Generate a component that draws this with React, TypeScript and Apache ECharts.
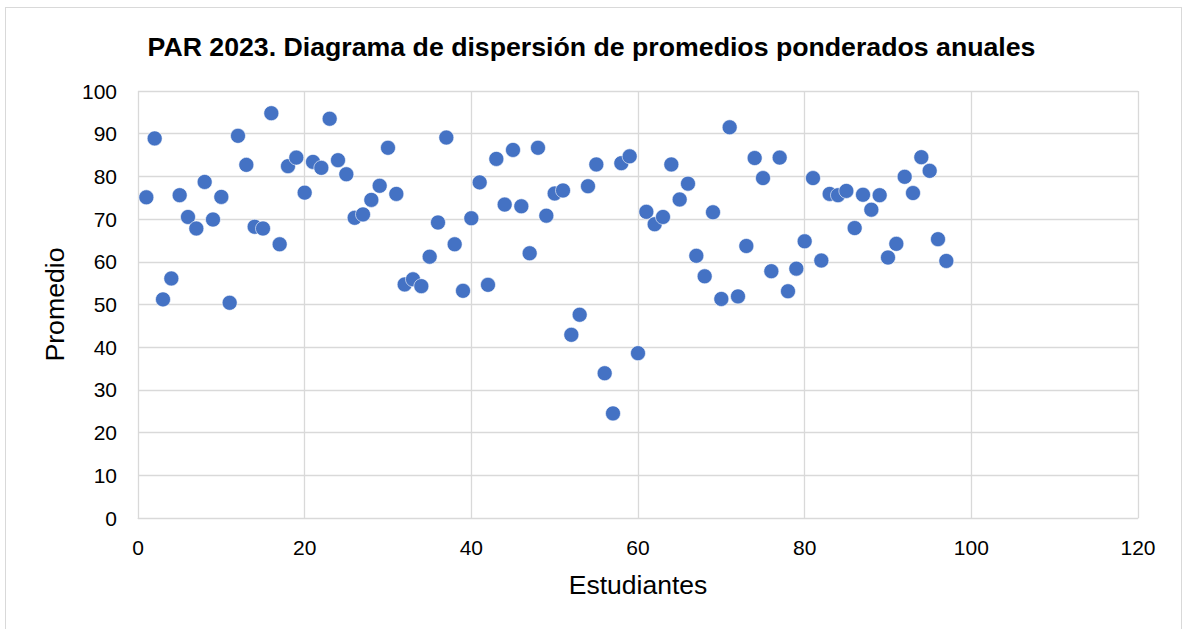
import React, { useEffect, useRef } from "react";
import * as echarts from "echarts";

const TITLE = "PAR 2023. Diagrama de dispersión de promedios ponderados anuales";
const X_NAME = "Estudiantes";
const Y_NAME = "Promedio";

const students: number[] = Array.from({ length: 97 }, (_, i) => i + 1);
const promedios: number[] = [
  75.1, 88.9, 51.2, 56.1, 75.6, 70.5, 67.8, 78.7, 69.9, 75.2,
  50.4, 89.5, 82.7, 68.2, 67.8, 94.8, 64.1, 82.4, 84.4, 76.2,
  83.4, 82.0, 93.5, 83.8, 80.5, 70.3, 71.1, 74.5, 77.8, 86.7,
  75.9, 54.7, 55.9, 54.3, 61.2, 69.2, 89.1, 64.1, 53.2, 70.2,
  78.6, 54.6, 84.1, 73.4, 86.2, 73.0, 62.0, 86.7, 70.8, 76.0,
  76.7, 42.9, 47.6, 77.7, 82.8, 33.9, 24.5, 83.1, 84.7, 38.6,
  71.7, 68.8, 70.5, 82.8, 74.6, 78.3, 61.4, 56.6, 71.6, 51.3,
  91.5, 51.9, 63.7, 84.3, 79.6, 57.8, 84.4, 53.1, 58.4, 64.8,
  79.6, 60.3, 75.9, 75.6, 76.6, 67.9, 75.7, 72.2, 75.6, 61.0,
  64.2, 79.9, 76.1, 84.5, 81.3, 65.3, 60.2,
];

export default function App() {
  const ref = useRef<HTMLDivElement>(null);
  useEffect(() => {
    document.body.style.margin = "0";
    if (!ref.current) return;
    const chart = echarts.init(ref.current, null, { renderer: "svg" });
    const font = "'Liberation Sans', Arial, sans-serif";
    chart.setOption({
      animation: false,
      backgroundColor: "#ffffff",
      textStyle: { fontFamily: font },
      title: {
        text: TITLE,
        left: "center",
        top: 28,
        textStyle: { fontFamily: font, fontSize: 26.7, fontWeight: "bold", color: "#000" },
      },
      grid: { left: 138, right: 45, top: 91, bottom: 111 },
      xAxis: {
        type: "value",
        min: 0,
        max: 120,
        interval: 20,
        name: X_NAME,
        nameLocation: "middle",
        nameGap: 53,
        nameTextStyle: { fontSize: 26.5, color: "#000", fontFamily: font },
        axisLine: { show: true, lineStyle: { color: "#d9d9d9", width: 1 } },
        axisTick: { show: false },
        axisLabel: { fontSize: 21, color: "#000", margin: 19, fontFamily: font },
        splitLine: { show: true, lineStyle: { color: "#d9d9d9", width: 1.3 } },
      },
      yAxis: {
        type: "value",
        min: 0,
        max: 100,
        interval: 10,
        name: Y_NAME,
        nameLocation: "middle",
        nameGap: 70,
        nameRotate: 90,
        nameTextStyle: { fontSize: 26.7, color: "#000", fontFamily: font },
        axisLine: { show: false },
        axisTick: { show: false },
        axisLabel: { fontSize: 21, color: "#000", margin: 21, fontFamily: font },
        splitLine: { show: true, lineStyle: { color: "#d9d9d9", width: 1.3 } },
      },
      series: [
        {
          type: "scatter",
          data: students.map((s, i) => [s, promedios[i]]),
          symbol: "circle",
          symbolSize: 15,
          itemStyle: { color: "#4472C4", borderColor: "#ffffff", borderWidth: 0.6, opacity: 1 },
        },
      ],
    });
    return () => chart.dispose();
  }, []);
  return (
    <div style={{ position: "relative", width: 1183, height: 629 }}>
      <div ref={ref} style={{ width: 1183, height: 629 }} />
      <div
        style={{
          position: "absolute",
          left: 5,
          top: 7,
          width: 1177,
          height: 640,
          border: "1px solid #d9d9d9",
          boxSizing: "border-box",
          pointerEvents: "none",
        }}
      />
    </div>
  );
}
